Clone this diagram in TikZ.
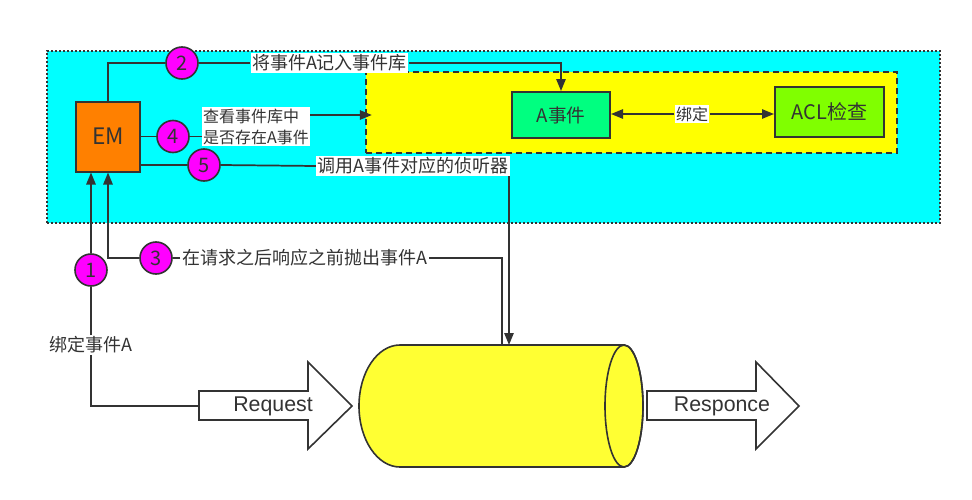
\documentclass[tikz,border=0pt]{standalone}
\usepackage{fontspec}
\setmainfont{Liberation Sans}
\newfontfamily\cjk{Noto Sans CJK SC}
\usetikzlibrary{arrows.meta}
\definecolor{linegray}{HTML}{333333}
\definecolor{sysblue}{HTML}{00FFFF}
\definecolor{storeyellow}{HTML}{FFFF00}
\definecolor{emorange}{HTML}{FF8000}
\definecolor{evgreen}{HTML}{00FF80}
\definecolor{aclgreen}{HTML}{80FF00}
\definecolor{numpink}{HTML}{FF00FF}
\definecolor{cylyellow}{HTML}{FFFF33}

\begin{document}
\begin{tikzpicture}[x=0.75pt,y=-0.75pt,font=\cjk\fontsize{13.5pt}{16pt}\selectfont,text=linegray]
\tikzstyle{area node}=[draw=linegray,line width=1.2pt,inner sep=0]
\tikzstyle{event node}=[draw=linegray,line width=1.5pt,inner sep=0]
\tikzstyle{num node}=[circle,draw=linegray,line width=1.2pt,fill=numpink,minimum size=24pt,inner sep=0,font=\cjk\fontsize{15pt}{15pt}\selectfont]
\tikzstyle{note node}=[fill=white,inner sep=1pt]
\tikzstyle{link}=[draw=linegray,line width=1.3pt]
\tikzstyle{arrow link}=[link,-{Triangle[length=9pt,width=7pt]}]
\tikzstyle{big arrow}=[draw=linegray,line width=1.2pt,fill=white]
\useasboundingbox (0,0) rectangle (972,500);
% containers
\node(sys)[area node,fill=sysblue,dash pattern=on 1.5pt off 1.5pt,minimum width=669.75pt,minimum height=129pt] at (493.5,137){};
\node(store)[area node,fill=storeyellow,dash pattern=on 4.5pt off 3pt,minimum width=398.25pt,minimum height=60.75pt] at (631.5,112.5){};
% boxes
\node(em)[event node,fill=emorange,minimum width=48pt,minimum height=52.5pt,font=\cjk\fontsize{17pt}{17pt}\selectfont] at (108,136.5){EM};
\node(evA)[event node,fill=evgreen,minimum width=73.5pt,minimum height=34.5pt,font=\cjk\fontsize{14pt}{14pt}\selectfont] at (561,115){A事件};
\node(acl)[event node,fill=aclgreen,minimum width=81.75pt,minimum height=37.5pt,font=\cjk\fontsize{15pt}{15pt}\selectfont] at (829.5,112){ACL检查};
% steps
\node(c1)[num node] at (91,270){1};
\node(c2)[num node] at (182,63){2};
\node(c3)[num node] at (156,258){3};
\node(c4)[num node] at (173,136.5){4};
\node(c5)[num node] at (204,165){5};
% labels
\node(t1)[note node] at (91,345){绑定事件A};
\node(t2)[note node] at (329.5,63){将事件A记入事件库};
\node(t3)[note node] at (304.5,258){在请求之后响应之前抛出事件A};
\node(t4)[note node,align=left,font=\cjk\fontsize{12pt}{15.75pt}\selectfont] at (256,126.5){查看事件库中\\是否存在A事件};
\node(t5)[note node] at (413,166){调用A事件对应的侦听器};
\node(tb)[note node,font=\cjk\fontsize{12pt}{12pt}\selectfont] at (692,114){绑定};
% cylinder
\path[draw=linegray,line width=1.2pt,fill=cylyellow] (625,345) -- (400,345) arc[start angle=90,end angle=270,x radius=30.75pt,y radius=45.75pt] -- (624,467) arc[start angle=-90,end angle=90,x radius=14.25pt,y radius=45.75pt] -- cycle;
\draw[line width=1.2pt,draw=linegray] (624,406) ellipse [x radius=14.25pt,y radius=45.75pt];
\coordinate(cyl3) at (502,345);
\coordinate(cyl5) at (509,345);
% request / responce
\draw[big arrow] (199,391) -- (308,391) -- (308,362) -- (352,406) -- (308,449) -- (308,420) -- (199,420) -- cycle;
\coordinate(reqtail) at (199,406);
\node(req)[font=\rmfamily\fontsize{16pt}{16pt}\selectfont] at (273,406){Request};
\draw[big arrow] (647,391) -- (756,391) -- (756,362) -- (799,406) -- (756,449) -- (756,420) -- (647,420) -- cycle;
\node(resp)[font=\rmfamily\fontsize{16pt}{16pt}\selectfont] at (722,406){Responce};
% connectors
\draw[link] (reqtail) -| (t1.south);
\draw[link] (t1.north) -- (c1.south);
\draw[arrow link] (c1.north) -- (c1 |- em.south);
\draw[link] (em.north) |- (c2.west);
\draw[link] (c2.east) -- (t2.west);
\draw[arrow link] (t2.east) -| (evA.north);
\draw[link] (cyl3) |- (t3.east);
\draw[link] (t3.west) -- (c3.east);
\draw[arrow link] (c3.west) -| (em.south);
\draw[link] (em.east |- c4) -- (c4.west);
\draw[link] (c4.east) -- (c4.east -| t4.west);
\draw[arrow link,shorten >=-5pt] (t4.east |- evA) -- (store.west |- evA);
\draw[link] (em.east |- c5) -- (c5.west);
\draw[link] (c5.east) -- (t5.west);
\draw[arrow link] (t5.south -| cyl5) -- (cyl5);
\draw[arrow link] (tb.west) -- (evA.east |- tb);
\draw[arrow link] (tb.east) -- (acl.west |- tb);
\end{tikzpicture}
\end{document}
